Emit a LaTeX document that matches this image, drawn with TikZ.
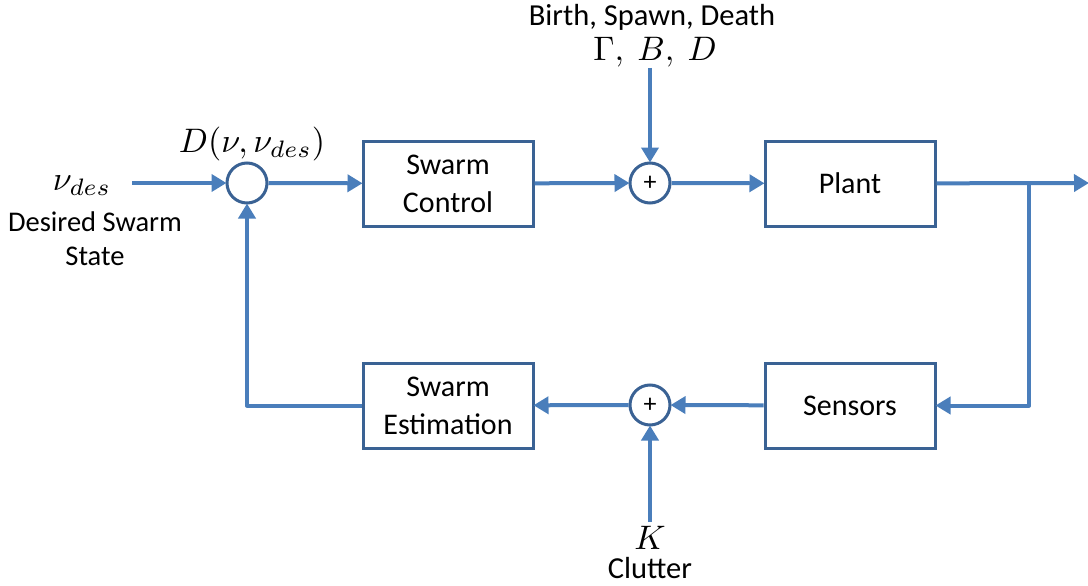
\documentclass[tikz,border=0pt]{standalone}
\usepackage{graphicx}
\usepackage{fontspec}
\setmainfont{Carlito}
\usetikzlibrary{arrows.meta}
\definecolor{flow}{HTML}{4A7EBB}
\definecolor{edge}{HTML}{3A6294}
% math labels are set at 10pt and scaled up
\newcommand{\bigmath}[1]{\scalebox{3.4}{\fontsize{10}{12}\selectfont$#1$}}
\tikzset{
  blockbox/.style={draw=edge, line width=3pt, fill=white, minimum width=170pt, minimum height=85pt,
    align=center, font=\fontsize{30}{38}\selectfont, inner sep=0pt},
  sumnode/.style={circle, draw=edge, line width=3pt, fill=white, minimum size=40pt, inner sep=0pt,
    font=\fontsize{26}{26}\selectfont},
  link/.style={draw=flow, line width=4pt, line join=round,
    -{Triangle[length=15pt,width=17pt]}, shorten >=-1pt},
  lbl/.style={inner sep=0pt, align=center, font=\fontsize{30.5}{36}\selectfont},
  mathlbl/.style={inner sep=0pt},
}
\begin{document}
\begin{tikzpicture}[x=1pt, y=-1pt]
  \useasboundingbox (0,0) rectangle (1088,586);

  % blocks
  \node[blockbox] (ctrl)  at (448,183.5) {Swarm\\Control};
  \node[blockbox] (plant) at (850,183.5) {Plant};
  \node[blockbox] (est)   at (448,405.5) {Swarm\\Estimation};
  \node[blockbox] (sens)  at (850,405.5) {Sensors};

  % summing junctions
  \node[sumnode] (cmp)  at (247,183) {};
  \node[sumnode] (dist) at (650,183) {+};
  \node[sumnode] (clut) at (650,405) {+};

  % free ends
  \coordinate (in)     at (132,183);
  \coordinate (out)    at (1088,183);
  \coordinate (branch) at (1029,183);
  \coordinate (top)    at (650,68);
  \coordinate (bot)    at (650,522);

  % labels
  \node[mathlbl] (nu) at (82,186) {\bigmath{\nu_{des}}};
  \node[lbl, font=\fontsize{28.5}{34}\selectfont] (desired) at (95,239) {Desired Swarm\\State};
  \node[mathlbl] (dlabel) at (252,144) {\bigmath{D(\nu,\nu_{des})}};
  \node[lbl] (birth) at (652,17) {Birth, Spawn, Death};
  \node[mathlbl] (gbd) at (655,52) {\bigmath{\Gamma,\ B,\ D}};
  \node[mathlbl] (k) at (650,538) {\bigmath{K}};
  \node[lbl] (clutter) at (650,568) {Clutter};

  % forward path
  \draw[link] (in) -- (cmp);
  \draw[link] (cmp) -- (ctrl);
  \draw[link] (ctrl) -- (dist);
  \draw[link] (top) -- (dist);
  \draw[link] (dist) -- (plant);
  \draw[link] (plant) -- (out);

  % feedback path
  \draw[link] (branch) |- (sens.east);
  \draw[link] (sens) -- (clut);
  \draw[link] (bot) -- (clut);
  \draw[link] (clut) -- (est);
  \draw[link] (est.west) -| (cmp.south);
\end{tikzpicture}
\end{document}
